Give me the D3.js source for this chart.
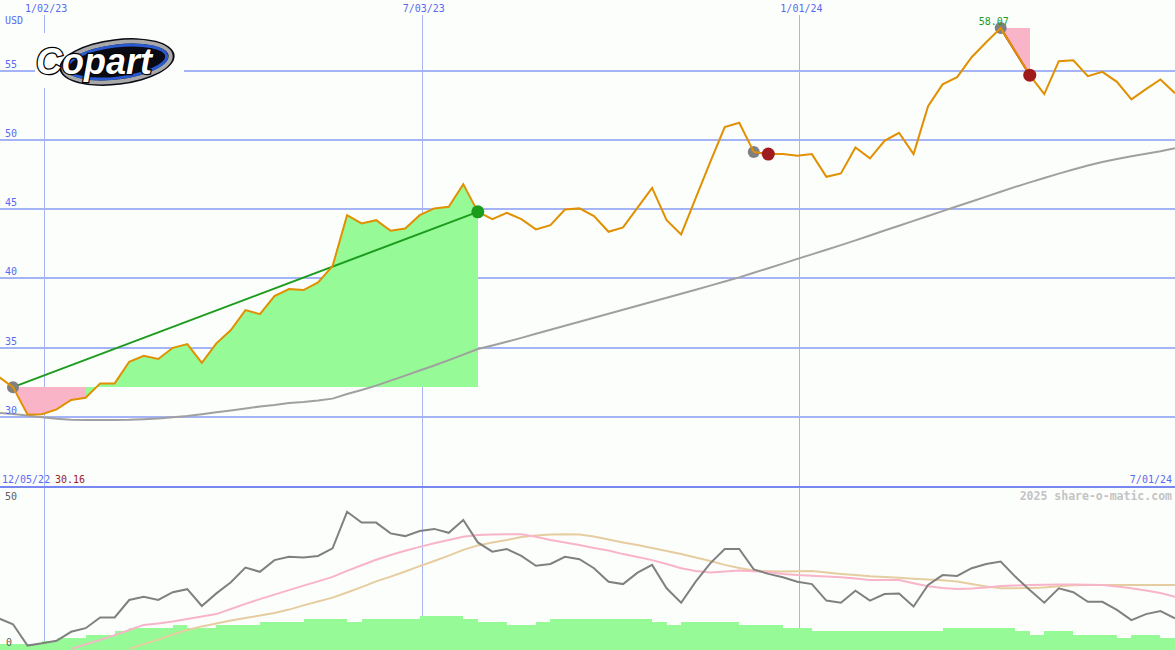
<!DOCTYPE html>
<html>
<head>
<meta charset="utf-8">
<script src="https://cdn.jsdelivr.net/npm/d3@7"></script>
<style>
body { margin: 0; background: #fcfefc; }
svg { display: block; }
text { font-family: "DejaVu Sans Mono", monospace; font-size: 10px; }
</style>
</head>
<body>
<svg id="chart" width="1175" height="650"></svg>
<script>
// weekly closes, Sunday-dated, Dec 11 2022 .. Jun 30 2024
const weeks = d3.timeWeek.range(new Date(2022, 11, 11), new Date(2024, 6, 1));

const price = [32.9, 32.14, 30.16, 30.19, 30.53, 31.21, 31.37, 32.41, 32.41, 33.97,
  34.40, 34.17, 34.98, 35.25, 33.90, 35.30, 36.26, 37.70, 37.41, 38.71,
  39.22, 39.15, 39.70, 40.88, 44.56, 43.96, 44.20, 43.43, 43.60, 44.56,
  45.05, 45.16, 46.80, 44.80, 44.27, 44.73, 44.27, 43.53, 43.84, 44.97,
  45.05, 44.49, 43.36, 43.68, 45.10, 46.53, 44.20, 43.17, 45.79, 48.39,
  50.92, 51.23, 49.13, 48.97, 48.97, 48.85, 48.97, 47.33, 47.57, 49.45,
  48.66, 49.93, 50.51, 48.97, 52.43, 54.01, 54.53, 55.97, 57.05, 58.07,
  56.40, 54.67, 53.30, 55.68, 55.75, 54.60, 54.91, 54.19, 52.92, 53.66,
  54.36, 53.37];

const avg40 = [30.28, 30.20, 30.10, 29.97, 29.85, 29.78, 29.76, 29.76, 29.77, 29.78,
  29.82, 29.88, 29.96, 30.05, 30.18, 30.32, 30.45, 30.59, 30.74, 30.85,
  30.99, 31.06, 31.17, 31.31, 31.64, 31.93, 32.25, 32.61, 32.97, 33.34,
  33.70, 34.09, 34.49, 34.89, 35.15, 35.42, 35.70, 35.99, 36.28, 36.57,
  36.86, 37.15, 37.44, 37.73, 38.02, 38.31, 38.60, 38.89, 39.18, 39.47,
  39.77, 40.07, 40.40, 40.73, 41.06, 41.40, 41.73, 42.06, 42.40, 42.74,
  43.09, 43.45, 43.80, 44.15, 44.50, 44.85, 45.20, 45.55, 45.90, 46.25,
  46.60, 46.93, 47.25, 47.56, 47.86, 48.15, 48.40, 48.62, 48.82, 49.00,
  49.18, 49.40];

// lower panel
const osc = [8.9, 6.9, -0.2, 0.6, 1.4, 4.4, 5.6, 9.2, 9.2, 15.0,
  16.1, 15.0, 17.6, 18.6, 13.0, 17.2, 20.9, 25.8, 24.4, 28.3,
  29.4, 29.2, 29.7, 32.2, 44.4, 40.8, 40.8, 37.2, 36.3, 38.0,
  38.7, 37.4, 41.7, 34.2, 31.1, 32.0, 29.7, 26.4, 27.0, 29.4,
  28.6, 25.6, 21.1, 20.3, 24.1, 26.7, 18.9, 14.1, 21.1, 27.2,
  32.0, 32.0, 25.2, 23.7, 22.6, 21.1, 20.3, 14.8, 14.1, 18.1,
  14.8, 17.0, 17.2, 12.8, 20.0, 23.3, 23.0, 25.6, 27.0, 27.8,
  22.8, 18.3, 14.1, 18.9, 17.6, 14.4, 14.4, 11.7, 8.3, 10.3,
  11.3, 8.9];

const oscFast = [null, null, null, null, null, -1.3, 0.2, 1.7, 3.3, 5.0,
  6.7, 7.2, 7.8, 8.7, 9.5, 10.3, 12.0, 13.7, 15.3, 16.8,
  18.3, 19.8, 21.2, 22.7, 24.7, 26.6, 28.4, 30.0, 31.4, 32.7,
  33.9, 35.0, 36.1, 36.7, 36.8, 36.9, 36.9, 36.1, 35.0, 34.2,
  33.3, 32.3, 31.5, 30.3, 29.3, 28.3, 27.0, 25.6, 24.7, 24.2,
  24.5, 24.8, 24.6, 24.3, 23.7, 23.3, 23.1, 22.8, 22.6, 22.2,
  21.7, 21.7, 21.7, 20.6, 19.6, 19.0, 18.7, 18.8, 19.2, 19.7,
  19.8, 20.0, 20.1, 20.2, 20.2, 20.1, 20.0, 19.5, 18.9, 18.2,
  17.3, 16.1];

const oscSlow = [null, null, null, null, null, null, null, null, null, -1.3,
  0.3, 1.8, 3.5, 5.0, 6.2, 7.2, 8.2, 9.0, 9.8, 10.7,
  11.8, 13.2, 14.5, 15.8, 17.5, 19.3, 21.2, 22.8, 24.5, 26.3,
  28.0, 29.8, 31.7, 33.2, 34.2, 35.0, 36.0, 36.5, 36.8, 36.9,
  36.8, 36.2, 35.2, 34.2, 33.3, 32.3, 31.3, 30.3, 29.2, 28.0,
  26.7, 25.7, 24.8, 24.6, 24.5, 24.6, 24.7, 24.2, 23.7, 23.3,
  22.9, 22.7, 22.4, 22.1, 21.8, 21.6, 21.2, 20.3, 19.5, 18.9,
  18.9, 19.0, 19.2, 19.6, 19.9, 20.0, 20.0, 20.0, 20.0, 20.0,
  20.0, 20.0];

const volume = [3.0, 3.0, 3.0, 4.5, 6.2, 6.2, 7.5, 7.5, 9.5, 11.2,
  11.2, 11.2, 12.5, 11.2, 11.2, 12.5, 12.5, 12.5, 14.1, 14.1,
  14.1, 15.5, 15.5, 15.5, 14.1, 15.5, 15.5, 15.5, 15.5, 17.0,
  17.0, 17.0, 15.5, 14.1, 14.1, 12.5, 12.5, 14.1, 15.5, 15.5,
  15.5, 15.5, 15.5, 15.5, 15.5, 14.1, 12.5, 14.1, 14.1, 14.1,
  14.1, 12.5, 12.5, 12.5, 11.2, 11.2, 9.7, 9.7, 9.7, 9.7,
  9.7, 9.7, 9.7, 9.7, 9.7, 11.2, 11.2, 11.2, 11.2, 11.2,
  9.5, 7.5, 9.5, 9.5, 7.5, 7.5, 7.5, 5.9, 7.5, 7.5,
  5.9, 5.9];

// trades: entry / exit week
const tradeIn  = ["2022-12-18", "2023-12-10", "2024-04-07"];
const tradeOut = ["2023-07-30", "2023-12-17", "2024-04-21"];

const priceTicks = [30, 35, 40, 45, 50, 55];
const gridDates = ["2023-01-02", "2023-07-03", "2024-01-01"];
const gridLabels = ["1/02/23", "7/03/23", "1/01/24"];

const W = 1175, H = 650;
const parse = d3.timeParse("%Y-%m-%d");
const fmt = d3.timeFormat("%Y-%m-%d");

const svg = d3.select("#chart");
svg.append("rect").attr("width", W).attr("height", H).attr("fill", "#fcfefc");

const x = d3.scaleTime()
  .domain([new Date(2022, 11, 18), new Date(2024, 5, 30)])
  .range([13, 1175]);
const y = d3.scaleLinear().domain([25, 60.1]).range([486, 0]);
const yLow = d3.scaleLinear().domain([0, 50]).range([645, 495]);
const yVol = d3.scaleLinear().domain([0, 80]).range([650, 490]);

const rows = weeks.map((d, i) => ({
  date: d, key: fmt(d), price: price[i], avg: avg40[i],
  osc: osc[i], fast: oscFast[i], slow: oscSlow[i], vol: volume[i]
}));
const idxOf = s => rows.findIndex(r => r.key === s);

// grid
const grid = svg.append("g").attr("shape-rendering", "crispEdges");
grid.selectAll(".vgrid").data(gridDates).join("line")
  .attr("x1", d => Math.round(x(parse(d)))).attr("x2", d => Math.round(x(parse(d))))
  .attr("y1", 15).attr("y2", H)
  .attr("stroke", "#a4b4f6").attr("stroke-width", 1);
grid.selectAll(".hgrid").data(priceTicks).join("line")
  .attr("x1", 0).attr("x2", W)
  .attr("y1", d => y(d)).attr("y2", d => y(d))
  .attr("stroke", "#a4b4f6").attr("stroke-width", 2);

// volume steps
const volArea = d3.area()
  .x(d => x(d.date)).y0(yVol(0)).y1(d => yVol(d.vol))
  .curve(d3.curveStepAfter);
svg.append("path").datum(rows).attr("d", volArea)
  .attr("fill", "#96fa96").attr("shape-rendering", "crispEdges");

// separator
svg.append("line").attr("x1", 0).attr("x2", W).attr("y1", 487).attr("y2", 487)
  .attr("stroke", "#7888f0").attr("stroke-width", 2).attr("shape-rendering", "crispEdges");

// trade fills (per week segment, green when the week closes above entry)
const segArea = d3.area().x(d => x(d.date)).y1(d => y(d.price));
tradeIn.forEach((s, t) => {
  const a = idxOf(s), b = idxOf(tradeOut[t]);
  const base = rows[a].price;
  for (let i = a; i < b; i++) {
    const seg = [rows[i], rows[i + 1]];
    svg.append("path").datum(seg)
      .attr("d", segArea.y0(y(base)))
      .attr("fill", rows[i + 1].price >= base ? "#96fa96" : "#fab4c8")
      .attr("shape-rendering", "crispEdges");
  }
});

// moving average
const line = (acc, sc) => d3.line().defined(d => acc(d) != null).x(d => x(d.date)).y(d => sc(acc(d)));
svg.append("path").datum(rows).attr("d", line(d => d.avg, y))
  .attr("fill", "none").attr("stroke", "#a0a0a0").attr("stroke-width", 2);

// trade lines + entry dots
tradeIn.forEach((s, t) => {
  const a = rows[idxOf(s)], b = rows[idxOf(tradeOut[t])];
  const win = b.price > a.price;
  svg.append("line")
    .attr("x1", x(a.date)).attr("y1", y(a.price))
    .attr("x2", x(b.date)).attr("y2", y(b.price))
    .attr("stroke", win ? "#1c9c1c" : "#a01c1c").attr("stroke-width", 2);
  svg.append("circle").attr("cx", x(a.date)).attr("cy", y(a.price)).attr("r", 6)
    .attr("fill", "#808080");
});

// price
svg.append("path").datum(rows).attr("d", line(d => d.price, y))
  .attr("fill", "none").attr("stroke", "#e09000").attr("stroke-width", 2);

// exit dots
tradeOut.forEach((s, t) => {
  const a = rows[idxOf(tradeIn[t])], b = rows[idxOf(s)];
  svg.append("circle").attr("cx", x(b.date)).attr("cy", y(b.price)).attr("r", 6.5)
    .attr("fill", b.price > a.price ? "#1c9c1c" : "#a01c1c");
});

// lower panel lines
const low = svg.append("g");
low.append("path").datum(rows).attr("d", line(d => d.slow, yLow))
  .attr("fill", "none").attr("stroke", "#e6cda0").attr("stroke-width", 2);
low.append("path").datum(rows).attr("d", line(d => d.fast, yLow))
  .attr("fill", "none").attr("stroke", "#f8b4c8").attr("stroke-width", 2);
low.append("path").datum(rows).attr("d", line(d => d.osc, yLow))
  .attr("fill", "none").attr("stroke", "#808080").attr("stroke-width", 2);

// labels
const blue = "#5a6af0";
svg.selectAll(".dlab").data(gridDates).join("text")
  .attr("x", (d) => x(parse(d)) + 2).attr("y", 12)
  .attr("text-anchor", "middle").attr("fill", blue)
  .text((d, i) => gridLabels[i]);
svg.append("text").attr("x", 5).attr("y", 24).attr("fill", blue).text("USD");
svg.selectAll(".plab").data(priceTicks).join("text")
  .attr("x", 5).attr("y", d => y(d) - 3).attr("fill", blue).text(d => d);

const hi = d3.max(price), lo = d3.min(price.slice(1));
const hiRow = rows[price.indexOf(hi)];
svg.append("text").attr("x", x(hiRow.date) - 7).attr("y", y(hi) - 3)
  .attr("text-anchor", "middle").attr("fill", "#1c9c1c").text(hi.toFixed(2));

svg.append("text").attr("x", 2).attr("y", 483).attr("fill", blue).text("12/05/22");
svg.append("text").attr("x", 55).attr("y", 483).attr("fill", "#a01c1c").text(lo.toFixed(2));
svg.append("text").attr("x", 1172).attr("y", 483).attr("text-anchor", "end").attr("fill", blue).text("7/01/24");
svg.append("text").attr("x", 1172).attr("y", 500).attr("text-anchor", "end")
  .attr("fill", "#c4c4c4").style("font-size", "11.5px").style("font-weight", "bold")
  .text("2025 share-o-matic.com");
svg.append("text").attr("x", 5).attr("y", yLow(50) + 5).attr("fill", "#606060").text("50");
svg.append("text").attr("x", 6).attr("y", yLow(0) + 1).attr("fill", "#606060").text("0");

// logo
svg.append("rect").attr("x", 35).attr("y", 33).attr("width", 149).attr("height", 55).attr("fill", "#fcfefc");
const logo = svg.append("g").attr("transform", "translate(117,62) rotate(-7)");
logo.append("ellipse").attr("rx", 58).attr("ry", 23).attr("fill", "#0a0a14");
logo.append("ellipse").attr("rx", 54).attr("ry", 19.5).attr("fill", "none")
  .attr("stroke", "#a8a8a8").attr("stroke-width", 4);
logo.append("ellipse").attr("rx", 50).attr("ry", 16).attr("fill", "none")
  .attr("stroke", "#2a5ad0").attr("stroke-width", 3);
svg.append("text").attr("x", 36).attr("y", 74)
  .attr("textLength", 116).attr("lengthAdjust", "spacingAndGlyphs")
  .style("font-family", "'Liberation Sans', Arial, sans-serif")
  .style("font-size", "36px").style("font-weight", "bold").style("font-style", "italic")
  .attr("fill", "#ffffff").attr("stroke", "#000").attr("stroke-width", 2.5)
  .attr("paint-order", "stroke").text("Copart");
</script>
</body>
</html>
